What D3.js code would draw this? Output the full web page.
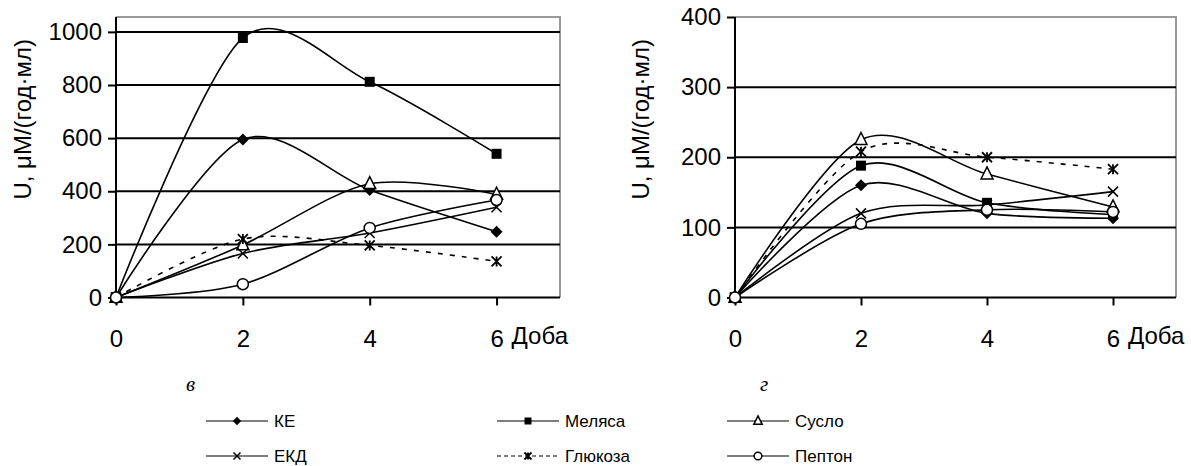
<!DOCTYPE html>
<html>
<head>
<meta charset="utf-8">
<script src="https://cdn.jsdelivr.net/npm/d3@7"></script>
<style>
  html, body { margin: 0; padding: 0; background: #fff; }
  svg { display: block; }
</style>
</head>
<body>
<svg id="chart" width="1191" height="466"></svg>
<script>
// ---------- DATA ----------
const days = [0, 2, 4, 6];
const xTicks = [0, 2, 4, 6];
const seriesNames = ["КЕ", "Меляса", "Сусло", "ЕКД", "Глюкоза", "Пептон"];
const seriesMarkers = ["diamond", "square", "triangle", "cross", "asterisk", "circle"];

// Panel "в"
const leftKE      = [0, 595, 405, 248];
const leftMelyasa = [0, 977, 812, 541];
const leftSuslo   = [0, 198, 428, 388];
const leftEKD     = [0, 166, 243, 340];
const leftGlucose = [0, 220, 196, 136];
const leftPepton  = [0, 50, 262, 367];
const leftYTicks  = [0, 200, 400, 600, 800, 1000];

// Panel "г"
const rightKE      = [0, 160, 120, 113];
const rightMelyasa = [0, 188, 135, 118];
const rightSuslo   = [0, 225, 176, 129];
const rightEKD     = [0, 120, 132, 151];
const rightGlucose = [0, 208, 200, 183];
const rightPepton  = [0, 105, 125, 122];
const rightYTicks  = [0, 100, 200, 300, 400];

const yTitle = "U, μM/(год·мл)";
const xTitle = "Доба";
const panelLabels = ["в", "г"];

// ---------- DRAW ----------
const svg = d3.select("#chart");
const tickFont = "Liberation Sans, Arial, sans-serif";

function drawPanel(cfg) {
  const x = d3.scaleLinear().domain([0, 7]).range([cfg.x0, cfg.x1]);
  const y = d3.scaleLinear().domain([0, cfg.yMax]).range([cfg.yBottom, cfg.yTop]);
  const g = svg.append("g");

  // border (top & right) gray
  g.append("path")
    .attr("d", `M${x(0)},${y(cfg.yMax)} H${x(7)} V${y(0)}`)
    .attr("fill", "none").attr("stroke", "#999").attr("stroke-width", 2);

  // gridlines
  g.selectAll(".grid").data(cfg.yTicks.filter(d => d > 0 && d < cfg.yMax))
    .join("line")
    .attr("x1", x(0)).attr("x2", x(7))
    .attr("y1", d => y(d)).attr("y2", d => y(d))
    .attr("stroke", "#000").attr("stroke-width", 2);

  // Y axis
  const yAxis = d3.axisLeft(y).tickValues(cfg.yTicks).tickSize(8).tickPadding(6).tickFormat(d3.format("d"));
  const ya = g.append("g").attr("transform", `translate(${x(0)},0)`).call(yAxis);
  ya.select(".domain").attr("stroke", "#000").attr("stroke-width", 2)
    .attr("d", `M0,${y(cfg.yMax)}V${y(0)}`);
  ya.selectAll(".tick line").attr("stroke", "#000").attr("stroke-width", 2);
  ya.selectAll(".tick text").attr("font-family", tickFont).attr("font-size", 24).attr("fill", "#000");

  // X axis
  const xAxis = d3.axisBottom(x).tickValues(xTicks).tickSize(8).tickPadding(24).tickFormat(d3.format("d"));
  const xa = g.append("g").attr("transform", `translate(0,${y(0)})`).call(xAxis);
  xa.select(".domain").attr("stroke", "#000").attr("stroke-width", 2)
    .attr("d", `M${x(0)},0H${x(7)}`);
  xa.selectAll(".tick line").attr("stroke", "#000").attr("stroke-width", 2);
  xa.selectAll(".tick text").attr("font-family", tickFont).attr("font-size", 24).attr("fill", "#000");

  // X title
  g.append("text").attr("x", x(6) + 15).attr("y", y(0) + 46)
    .attr("font-family", tickFont).attr("font-size", 24).text(xTitle);

  // Y title
  g.append("text")
    .attr("transform", `translate(${cfg.titleX},${(y(0) + y(cfg.yMax)) / 2 - 38}) rotate(-90)`)
    .attr("text-anchor", "middle")
    .attr("font-family", tickFont).attr("font-size", 24).text(yTitle);

  // panel label
  g.append("text").attr("x", cfg.labelX).attr("y", 391)
    .attr("font-family", "Liberation Serif, Times New Roman, serif")
    .attr("font-style", "italic").attr("font-size", 21).text(cfg.label);

  const line = d3.line().x((d, i) => x(days[i])).y(d => y(d)).curve(d3.curveCardinal.tension(0.1));

  cfg.series.forEach((vals, si) => {
    g.append("path").datum(vals).attr("d", line)
      .attr("fill", "none").attr("stroke", "#000").attr("stroke-width", 1.6)
      .attr("stroke-dasharray", seriesMarkers[si] === "asterisk" ? "5,7" : null);
  });
  cfg.series.forEach((vals, si) => {
    vals.forEach((v, i) => drawMarker(g, seriesMarkers[si], x(days[i]), y(v), 1));
  });
}

function drawMarker(g, type, cx, cy, s) {
  const k = s;
  if (type === "diamond") {
    const r = 6 * k;
    g.append("path").attr("d", `M${cx},${cy - r}L${cx + r},${cy}L${cx},${cy + r}L${cx - r},${cy}Z`).attr("fill", "#000");
  } else if (type === "square") {
    const r = 5 * k;
    g.append("rect").attr("x", cx - r).attr("y", cy - r).attr("width", 2 * r).attr("height", 2 * r).attr("fill", "#000");
  } else if (type === "triangle") {
    const r = 6 * k;
    g.append("path").attr("d", `M${cx},${cy - r * 1.2}L${cx + r},${cy + r * 0.8}L${cx - r},${cy + r * 0.8}Z`)
      .attr("fill", "#fff").attr("stroke", "#000").attr("stroke-width", 1.5);
  } else if (type === "circle") {
    g.append("circle").attr("cx", cx).attr("cy", cy).attr("r", 5.5 * k)
      .attr("fill", "#fff").attr("stroke", "#000").attr("stroke-width", 1.5);
  } else if (type === "cross") {
    const r = 5 * k;
    g.append("path").attr("d", `M${cx - r},${cy - r}L${cx + r},${cy + r}M${cx + r},${cy - r}L${cx - r},${cy + r}`)
      .attr("stroke", "#000").attr("stroke-width", 1.5);
  } else if (type === "asterisk") {
    const r = 5 * k;
    g.append("path").attr("d", `M${cx - r},${cy - r}L${cx + r},${cy + r}M${cx + r},${cy - r}L${cx - r},${cy + r}M${cx},${cy - r}V${cy + r}`)
      .attr("stroke", "#000").attr("stroke-width", 1.8);
  }
}

drawPanel({
  x0: 116, x1: 560, yTop: 17, yBottom: 297.5, yMax: 1056,
  yTicks: leftYTicks, titleX: 31, labelX: 186, label: panelLabels[0],
  series: [leftKE, leftMelyasa, leftSuslo, leftEKD, leftGlucose, leftPepton]
});
drawPanel({
  x0: 735, x1: 1176, yTop: 17, yBottom: 297.5, yMax: 400,
  yTicks: rightYTicks, titleX: 649, labelX: 760, label: panelLabels[1],
  series: [rightKE, rightMelyasa, rightSuslo, rightEKD, rightGlucose, rightPepton]
});

// ---------- LEGEND ----------
const legendFont = "Liberation Sans, Arial, sans-serif";
const legendCols = [206, 497, 727];
const legendRows = [421, 456];
const leg = svg.append("g");
seriesNames.forEach((name, i) => {
  const col = i % 3, row = Math.floor(i / 3);
  const lx = legendCols[col], ly = legendRows[row];
  const gi = leg.append("g");
  gi.append("line").attr("x1", lx).attr("x2", lx + 62).attr("y1", ly).attr("y2", ly)
    .attr("stroke", "#000").attr("stroke-width", 1.2)
    .attr("stroke-dasharray", seriesMarkers[i] === "asterisk" ? "4,3" : null);
  drawMarker(gi, seriesMarkers[i], lx + 31, ly, 0.7);
  gi.append("text").attr("x", lx + 68).attr("y", ly + 6)
    .attr("font-family", legendFont).attr("font-size", 17).text(name);
});
</script>
</body>
</html>
